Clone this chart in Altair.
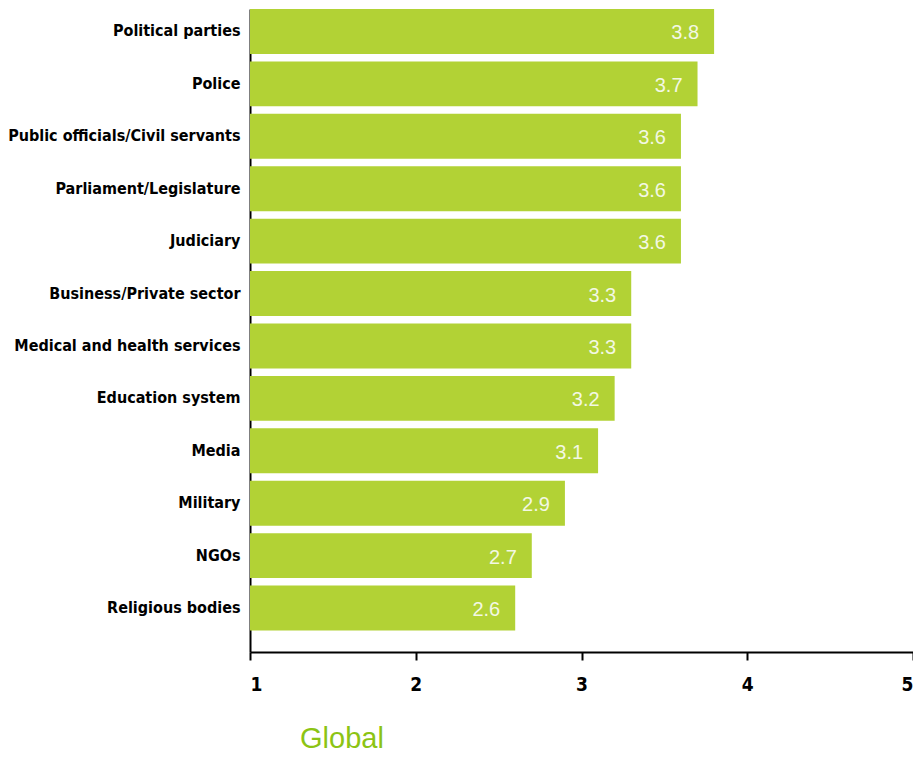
import altair as alt
import pandas as pd

categories = ["Political parties", "Police", "Public officials/Civil servants",
              "Parliament/Legislature", "Judiciary", "Business/Private sector",
              "Medical and health services", "Education system", "Media",
              "Military", "NGOs", "Religious bodies"]
values = [3.8, 3.7, 3.6, 3.6, 3.6, 3.3, 3.3, 3.2, 3.1, 2.9, 2.7, 2.6]
x_ticks = [1, 2, 3, 4, 5]

df = pd.DataFrame({"cat": categories, "val": values})
df["lbl"] = df["val"].map(lambda v: f"{v:.1f}")

LABEL_FONT = "DejaVu Sans Condensed"

y_enc = alt.Y("cat:N", sort=categories, title=None,
              scale=alt.Scale(paddingInner=0.143, paddingOuter=0.205, align=0),
              axis=alt.Axis(domain=True, domainColor="black", domainWidth=2,
                            ticks=False, labelPadding=10, labelFont=LABEL_FONT,
                            labelFontWeight="bold", labelFontSize=16,
                            labelColor="black", labelLimit=400))

x_enc = alt.X("val:Q", title=None,
              scale=alt.Scale(domain=[1, 5], nice=False, zero=False),
              axis=alt.Axis(values=x_ticks, format="d", grid=False,
                            domainColor="black", domainWidth=2,
                            tickColor="black", tickWidth=2, tickSize=8,
                            labelPadding=15, labelFont=LABEL_FONT,
                            labelFontWeight="bold", labelFontSize=19,
                            labelColor="black"))

bars = alt.Chart(df).mark_bar(color="#b2d235").encode(
    x=x_enc, x2=alt.datum(1), y=y_enc)

texts = alt.Chart(df).mark_text(color="#f3f8e4", align="right", baseline="middle",
                                dx=-15, dy=2, font="Liberation Sans",
                                fontSize=20).encode(
    x=alt.X("val:Q"), y=alt.Y("cat:N", sort=categories), text="lbl:N")

chart = (bars + texts).properties(
    width=663, height=643,
    autosize=alt.AutoSizeParams(type="none"),
    padding={"left": 242, "top": 1, "right": 0, "bottom": 104},
    title=alt.TitleParams("Global", orient="bottom", anchor="start", dx=50,
                          frame="group", offset=31, color="#8cc414",
                          font="Liberation Sans", fontSize=29,
                          fontWeight="normal"),
).configure_view(stroke=None)

chart.save("out.html", embed_options={"renderer": "svg", "actions": False})
